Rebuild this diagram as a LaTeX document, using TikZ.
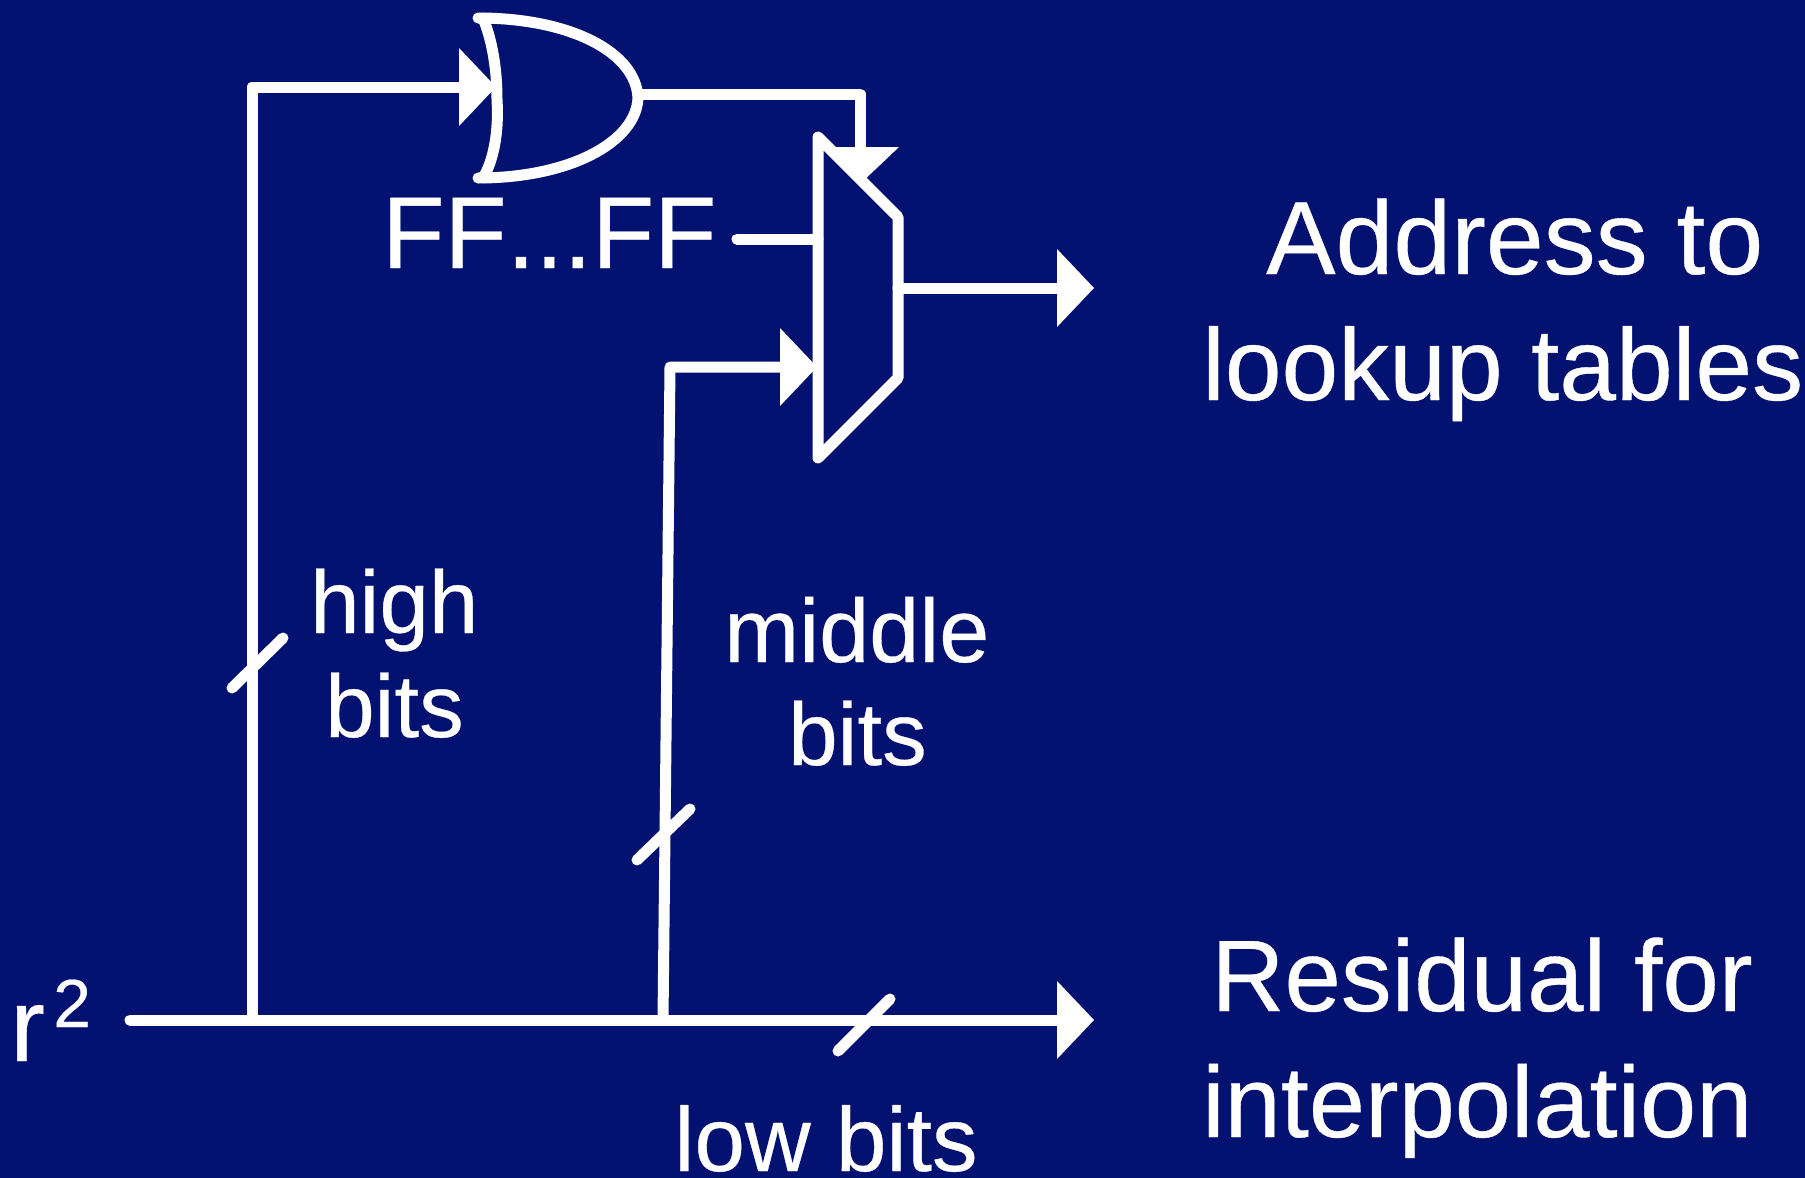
\documentclass[tikz,border=0pt]{standalone}
\usepackage{fontspec}
\setmainfont{Liberation Sans}
\newcommand{\sizedfont}[1]{\fontspec[FakeBold=0.35]{Liberation Sans}\fontsize{#1}{#1}\selectfont}
\usetikzlibrary{arrows.meta}
\definecolor{bgblue}{RGB}{3,18,113}
\tikzset{
  wire/.style={draw=white,line width=11pt,line cap=round,line join=round},
  arrowwire/.style={wire,-{Triangle[length=37pt,width=78pt,line width=0pt,fill=white]}},
  labeltext/.style={text=white,anchor=base west,inner sep=0pt,font=\sizedfont{#1}}
}
\begin{document}
\begin{tikzpicture}[x=1pt,y=-1pt]
\useasboundingbox (0,0) rectangle (1805,1178);
\fill[bgblue] (0,0) rectangle (1805,1178);

% coordinates
\coordinate (in) at (130,1020);
\coordinate (hj) at (252,1020);
\coordinate (hc) at (252,87);
\coordinate (orin) at (496,87);
\coordinate (mj) at (663,1020);
\coordinate (mc) at (670,367);
\coordinate (muxin) at (817,367);
\coordinate (res) at (1094,1020);
\coordinate (orout) at (638,94);
\coordinate (orc) at (860,94);
\coordinate (muxsel) at (860,184);
\coordinate (ffs) at (737,239);
\coordinate (ffe) at (818,239);
\coordinate (muxout) at (898,288);
\coordinate (addr) at (1094,288);

% wires
\draw[arrowwire] (in) -- (res);
\draw[arrowwire] (hj) -- (hc) -- (orin);
\draw[arrowwire] (mj) -- (mc) -- (muxin);
\draw[arrowwire] (orout) -- (orc) -- (muxsel);
\draw[wire] (ffs) -- (ffe);
\draw[arrowwire] (muxout) -- (addr);

% OR gate
\draw[wire] (478,18) .. controls (570,18) and (636,52) .. (638,98)
  .. controls (636,142) and (570,178) .. (478,178);
\draw[wire] (483,18) .. controls (492,40) and (497,68) .. (497,100)
  .. controls (499,130) and (494,160) .. (483,178);

% Mux
\draw[wire] (818,137) -- (898,217) -- (898,378) -- (818,458) -- cycle;

% bus ticks
\draw[wire] (232,688) -- (283,638);
\draw[wire] (637,860) -- (690,809);
\draw[wire] (838,1051) -- (890,999);

% text
\node[labeltext=102] (ff) at (382,268) {FF\kern0pt...\kern0pt FF};
\node[labeltext=104] (a1) at (1266,274) {Address to};
\node[labeltext=102] (a2) at (1202,400) {lookup tables};
\node[labeltext=101.5] (r1) at (1211,1011) {Residual for};
\node[labeltext=101] (r2) at (1202,1137) {interpolation};
\node[labeltext=104] (rr) at (10,1061) {r};
\node[labeltext=68] (rs) at (53,1027) {2};
\node[labeltext=89] (h1) at (310,633) {high};
\node[labeltext=89] (h2) at (325,737) {bits};
\node[labeltext=90] (m1) at (724,662) {middle};
\node[labeltext=89] (m2) at (788,765) {bits};
\node[labeltext=91] (l1) at (674,1171) {low bits};
\end{tikzpicture}
\end{document}
